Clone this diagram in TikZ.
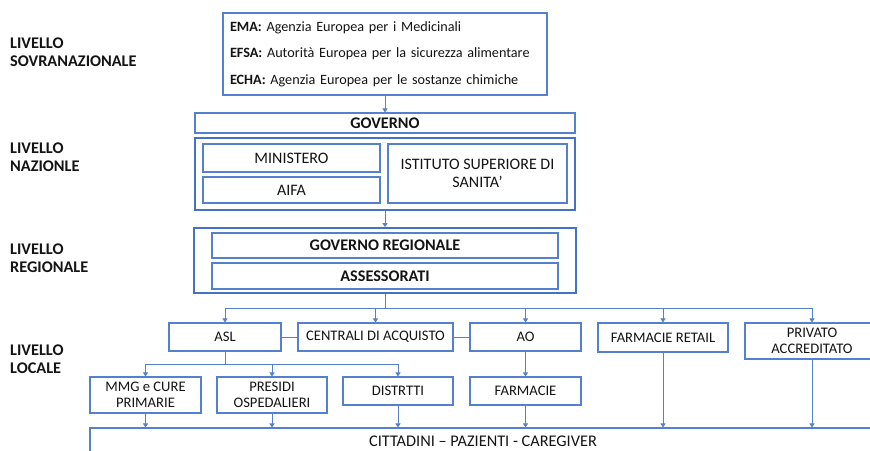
\documentclass[tikz,border=0pt]{standalone}
\usepackage{fontspec}
\setmainfont{Carlito}
\usetikzlibrary{arrows.meta}
\definecolor{bl}{RGB}{84,128,206}
\definecolor{bld}{RGB}{68,114,196}
\definecolor{txt}{RGB}{20,20,20}
\tikzset{
  box/.style={draw=bl, line width=1.1pt, minimum width=#1, text=txt, inner sep=2pt, align=center, font=\fontsize{14.6}{16.5}\selectfont},
  natfont/.style={font=\fontsize{16}{18}\selectfont},
  boldfont/.style={font=\bfseries\fontsize{16.2}{18}\selectfont},
  bigbox/.style={draw=bld, line width=1.8pt, minimum width=#1, inner sep=0pt},
  lvl/.style={anchor=west, align=left, text=txt, font=\bfseries\fontsize{16.3}{18}\selectfont, inner sep=0pt},
  conn/.style={draw=bl, line width=1pt},
  arr/.style={conn, -{Triangle[width=5pt,length=4pt]}}
}
\begin{document}
\begin{tikzpicture}[x=1pt,y=-1pt]
\useasboundingbox (0,0) rectangle (870,450);
\clip (0,0) rectangle (870,450);
\fill[white] (0,0) rectangle (870,450);
% level labels
\node[lvl] (l1) at (10,52) {LIVELLO\\SOVRANAZIONALE};
\node[lvl] (l2) at (10,157.5) {LIVELLO\\NAZIONLE};
\node[lvl] (l3) at (10,258) {LIVELLO\\REGIONALE};
\node[lvl] (l4) at (10,359) {LIVELLO\\LOCALE};
% supranational
\node[box=324pt, minimum height=82pt, align=left, text width=310pt, font=\fontsize{14.2}{26.5}\selectfont] (ema) at (385,54)
  {\textbf{EMA:} Agenzia Europea per i Medicinali\\\textbf{EFSA:} Autorità Europea per la sicurezza alimentare\\\textbf{ECHA:} Agenzia Europea per le sostanze chimiche};
% national
\node[box=380pt, minimum height=20pt, boldfont] (gov) at (385,123) {GOVERNO};
\node[bigbox=380pt, minimum height=72pt] (naz) at (385,174) {};
\node[box=177pt, minimum height=28pt, natfont] (min) at (291.5,158) {MINISTERO};
\node[box=177pt, minimum height=26pt, natfont] (aifa) at (291.5,190) {AIFA};
\node[box=179pt, minimum height=59pt, natfont] (iss) at (477.5,173.5) {ISTITUTO SUPERIORE DI\\SANITA’};
% regional
\node[bigbox=382pt, minimum height=65pt] (reg) at (385,260.5) {};
\node[box=346pt, minimum height=25pt, boldfont] (greg) at (385,245.5) {GOVERNO REGIONALE};
\node[box=346pt, minimum height=26pt, boldfont] (ass) at (385,276) {ASSESSORATI};
% local
\node[box=112pt, minimum height=28pt] (asl) at (225,337) {ASL};
\node[box=155pt, minimum height=28pt] (cen) at (375.5,337) {CENTRALI DI ACQUISTO};
\node[box=111pt, minimum height=28pt] (ao) at (525.5,337) {AO};
\node[box=130pt, minimum height=29pt] (fret) at (663,337.5) {FARMACIE RETAIL};
\node[box=134pt, minimum height=36pt] (priv) at (812,341) {PRIVATO\\ACCREDITATO};
\node[box=111pt, minimum height=36pt] (mmg) at (145.5,395) {MMG e CURE\\PRIMARIE};
\node[box=110pt, minimum height=36pt] (pres) at (272,395) {PRESIDI\\OSPEDALIERI};
\node[box=110pt, minimum height=28pt] (dis) at (398,391) {DISTRTTI};
\node[box=111pt, minimum height=28pt] (farm) at (525.5,391) {FARMACIE};
\node[box=786pt, minimum height=26pt, font=\fontsize{16.3}{18}\selectfont] (citt) at (483,441) {CITTADINI – PAZIENTI - CAREGIVER};
% connectors
\draw[arr] (ema.south) -- (gov.north);
\draw[arr] (naz.south) -- (reg.north);
\coordinate (b1) at (385,308);
\draw[conn] (reg.south) -- (b1);
\draw[arr] (b1) -| (asl.north);
\draw[arr] (b1) -| (cen.north);
\draw[arr] (b1) -| (ao.north);
\draw[arr] (b1) -| (fret.north);
\draw[arr] (b1) -| (priv.north);
\draw[conn] (asl.east) -- (cen.west);
\draw[conn] (cen.east) -- (ao.west);
\coordinate (b2) at (225,364);
\draw[conn] (asl.south) -- (b2);
\draw[arr] (b2) -| (mmg.north);
\draw[arr] (b2) -| (pres.north);
\draw[arr] (b2) -| (dis.north);
\draw[arr] (ao.south) -- (farm.north);
\draw[arr] (mmg.south) -- (mmg.south |- citt.north);
\draw[arr] (pres.south) -- (pres.south |- citt.north);
\draw[arr] (dis.south) -- (dis.south |- citt.north);
\draw[arr] (farm.south) -- (farm.south |- citt.north);
\draw[arr] (fret.south) -- (fret.south |- citt.north);
\draw[arr] (priv.south) -- (priv.south |- citt.north);
\end{tikzpicture}
\end{document}
